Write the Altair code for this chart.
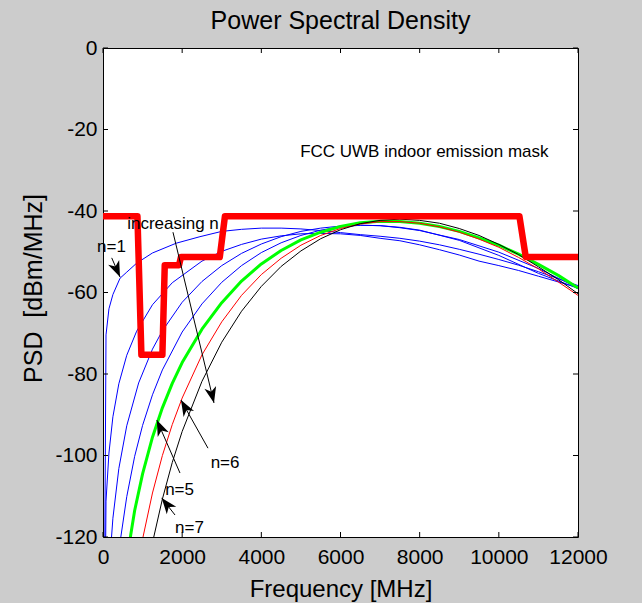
import math
import altair as alt
import pandas as pd

# ---------------- text ----------------
TITLE = "Power Spectral Density"
X_TITLE = "Frequency [MHz]"
Y_TITLE = "PSD\u00a0\u00a0[dBm/MHz]"
X_TICKS = [0, 2000, 4000, 6000, 8000, 10000, 12000]
Y_TICKS = [0, -20, -40, -60, -80, -100, -120]

# ---------------- FCC indoor mask ----------------
MASK_F = [0, 870, 970, 1500, 1560, 1920, 1970, 2950, 3080, 10520, 10680, 12000]
MASK_PSD = [-41.3, -41.3, -75.3, -75.3, -53.3, -53.3, -51.3, -51.3, -41.3, -41.3, -51.3, -51.3]

# ---------------- PSD curves ----------------
N1_F = [0, 76, 150, 250, 430, 600, 850, 1250, 1850, 2450, 3000, 3500, 4000, 4500, 5000,
        5500, 6000, 6500, 7000, 7500, 8000, 8500, 9000, 9500, 10000, 10500, 11000, 11500, 12000]
N1_PSD = [-200, -70.4, -64.0, -60.5, -56.5, -55.0, -52.8, -50.3, -47.9, -46.3, -45.0, -44.5, -44.2, -44.2, -44.4,
          -44.8, -45.3, -45.8, -46.2, -46.7, -47.4, -48.3, -49.4, -50.6, -51.9, -53.3, -54.9, -56.6, -58.3]

N2_F = [0, 76, 150, 250, 400, 600, 850, 1250, 1750, 2500, 3000, 3500, 4000, 4500, 5000,
        5500, 6000, 6500, 7000, 7500, 8000, 8500, 9000, 9500, 10000, 10500, 11000, 11500, 12000]
N2_PSD = [-200, -111.2, -99.4, -90.5, -82.4, -75.4, -69.5, -63.0, -57.6, -52.3, -49.9, -48.2, -46.9, -46.1, -45.6,
          -45.5, -45.6, -46.0, -46.7, -47.3, -48.3, -49.5, -50.8, -52.3, -53.4, -54.6, -56.0, -57.4, -58.8]

N3_F = [150, 250, 400, 600, 900, 1250, 1500, 2000, 2500, 3000, 3500, 4000, 4500, 5000,
        5500, 6000, 6500, 7000, 7500, 8000, 9000, 10000, 11000, 12000]
N3_PSD = [-128.7, -115.4, -103.2, -92.7, -82.2, -73.9, -69.4, -62.4, -57.3, -53.4, -50.4, -48.1, -46.3, -45.0,
          -44.2, -43.7, -43.5, -43.6, -44.1, -44.8, -47.0, -50.1, -54.1, -58.9]

N4_F = [300, 450, 600, 800, 1000, 1250, 1500, 2000, 2500, 3000, 3500, 4000, 4500, 5000,
        5500, 6000, 6500, 7000, 7500, 8000, 9000, 10000, 11000, 12000]
N4_PSD = [-134.1, -120.0, -110.1, -100.2, -92.6, -85.1, -79.0, -69.7, -62.8, -57.5, -53.4, -50.2, -47.8, -46.0,
          -44.7, -43.9, -43.5, -43.6, -44.0, -44.7, -47.2, -50.9, -55.3, -59.0]

N5_F = [650, 700, 800, 1000, 1250, 1500, 1750, 2000, 2500, 3000, 3500, 4000, 4500, 5000, 5500, 6000,
        6500, 7000, 7500, 8000, 8500, 9000, 9500, 10000, 10500, 11000, 11500, 12000]
N5_PSD = [-123.0, -119.5, -113.5, -104.5, -95.5, -88.3, -82.3, -77.2, -69.0, -62.5, -57.2, -53.0, -49.7, -47.1, -45.2, -43.8,
          -42.9, -42.5, -42.6, -43.0, -43.8, -45.0, -46.6, -48.4, -50.6, -53.1, -55.8, -58.9]

N6_F = [1000, 1250, 1500, 1750, 2000, 2500, 3000, 3500, 4000, 4500, 5000, 5500, 6000, 6500,
        7000, 7500, 8000, 8500, 9000, 9500, 10000, 10500, 11000, 11500, 12000]
N6_PSD = [-120.5, -109.2, -100.0, -92.4, -85.9, -75.3, -67.2, -60.7, -55.6, -51.6, -48.4, -46.0, -44.3, -43.2,
          -42.6, -42.6, -43.0, -43.9, -45.2, -46.9, -48.9, -51.4, -54.2, -57.4, -60.7]

N7_F = [1250, 1500, 1750, 2000, 2500, 3000, 3500, 4000, 4500, 5000, 5500, 6000, 6500,
        7000, 7500, 8000, 8500, 9000, 9500, 10000, 10500, 11000, 11500, 12000]
N7_PSD = [-121.4, -110.7, -101.7, -94.1, -81.8, -72.2, -64.6, -58.5, -53.6, -49.8, -46.8, -44.6, -43.1,
          -42.3, -42.0, -42.3, -43.0, -44.3, -46.0, -48.2, -50.7, -53.7, -56.8, -60.3]

# ---------------- annotations ----------------
NOTE_TEXT = ["FCC UWB indoor emission mask", "increasing n", "n=1", "n=6", "n=5", "n=7"]
NOTE_F = [4980, 610, -150, 2720, 1570, 1820]
NOTE_PSD = [-26.7, -44.4, -50.1, -103.0, -109.7, -119.0]

ARROW_TAIL_F = [1768, 220, 2652, 1945, 1819]
ARROW_TAIL_PSD = [-45.2, -51.5, -98.2, -104.3, -114.6]
ARROW_TIP_F = [2804, 430, 1970, 1360, 1483]
ARROW_TIP_PSD = [-87.1, -56.2, -86.4, -91.3, -110.4]

# ---------------- layout ----------------
W, H = 475, 489
FONT = "Liberation Sans"
X_DOMAIN = [0, 12000]
Y_DOMAIN = [-120, 0]

xscale = alt.Scale(domain=X_DOMAIN, nice=False, zero=False)
yscale = alt.Scale(domain=Y_DOMAIN, nice=False, zero=False)

xaxis = alt.Axis(values=X_TICKS, title=X_TITLE, labelExpr="'' + datum.value",
                 labelFont=FONT, labelFontSize=21, labelColor="black", labelPadding=9,
                 labelFlush=False, labelOverlap=False,
                 ticks=False, tickSize=0, domain=False, grid=False,
                 titleFont=FONT, titleFontSize=24, titleFontWeight="normal", titleColor="black",
                 titleBaseline="alphabetic", titleY=59)
yaxis = alt.Axis(values=Y_TICKS, title=Y_TITLE, labelExpr="'' + datum.value",
                 labelFont=FONT, labelFontSize=21, labelColor="black", labelPadding=6,
                 labelFlush=False, labelOverlap=False,
                 ticks=False, tickSize=0, domain=False, grid=False,
                 titleFont=FONT, titleFontSize=25, titleFontWeight="normal", titleColor="black",
                 titleAngle=270, titleBaseline="alphabetic", titleAlign="center",
                 titleX=-62, titleY=240)

def X(field):
    return alt.X(field, scale=xscale, axis=xaxis)

def Y(field):
    return alt.Y(field, scale=yscale, axis=yaxis)

def curve(fs, ps, color, width):
    df = pd.DataFrame({"f": fs, "psd": ps, "i": range(len(fs))})
    return alt.Chart(df).mark_line(color=color, strokeWidth=width, clip=True,
                                   strokeJoin="round").encode(
        x=X("f:Q"), y=Y("psd:Q"), order="i:Q")

layers = [
    curve(N1_F, N1_PSD, "#0000ff", 1),
    curve(N2_F, N2_PSD, "#0000ff", 1),
    curve(N3_F, N3_PSD, "#0000ff", 1),
    curve(N4_F, N4_PSD, "#0000ff", 1),
    curve(N5_F, N5_PSD, "#00ff00", 3),
    curve(N6_F, N6_PSD, "#ff0000", 1),
    curve(N7_F, N7_PSD, "#000000", 1),
    curve(MASK_F, MASK_PSD, "#ff0000", 6.5),
]

# arrows
sx = W / (X_DOMAIN[1] - X_DOMAIN[0])
sy = H / (Y_DOMAIN[1] - Y_DOMAIN[0])
angles = []
for tf, tp, hf, hp in zip(ARROW_TAIL_F, ARROW_TAIL_PSD, ARROW_TIP_F, ARROW_TIP_PSD):
    dx = (hf - tf) * sx
    dy = (tp - hp) * sy
    angles.append(math.degrees(math.atan2(dx, -dy)) % 360)
arrows = pd.DataFrame({"f": ARROW_TAIL_F, "psd": ARROW_TAIL_PSD,
                       "hf": ARROW_TIP_F, "hp": ARROW_TIP_PSD, "ang": angles})

shafts = alt.Chart(arrows).mark_rule(color="black", strokeWidth=1).encode(
    x=X("f:Q"), y=Y("psd:Q"), x2="hf:Q", y2="hp:Q")
HEAD = "M0,0L0.6,1.6L0,1.15L-0.6,1.6Z"
heads = alt.Chart(arrows).mark_point(shape=HEAD, filled=True, size=400, color="black",
                                     opacity=1, strokeWidth=0).encode(
    x=X("hf:Q"), y=Y("hp:Q"), angle=alt.Angle("ang:Q", scale=None))

notes = pd.DataFrame({"f": NOTE_F, "psd": NOTE_PSD, "t": NOTE_TEXT})
texts = alt.Chart(notes).mark_text(align="left", baseline="alphabetic", font=FONT,
                                   fontSize=17, color="black").encode(
    x=X("f:Q"), y=Y("psd:Q"), text="t:N")

# inward ticks on all four sides
xt = pd.DataFrame({"f": X_TICKS})
yt = pd.DataFrame({"psd": Y_TICKS})
TL = 5
tick_bottom = alt.Chart(xt).mark_rule(color="black", strokeWidth=1).encode(
    x=X("f:Q"), y=alt.value(H), y2=alt.value(H - TL))
tick_top = alt.Chart(xt).mark_rule(color="black", strokeWidth=1).encode(
    x=X("f:Q"), y=alt.value(0), y2=alt.value(TL))
tick_left = alt.Chart(yt).mark_rule(color="black", strokeWidth=1).encode(
    y=Y("psd:Q"), x=alt.value(0), x2=alt.value(TL))
tick_right = alt.Chart(yt).mark_rule(color="black", strokeWidth=1).encode(
    y=Y("psd:Q"), x=alt.value(W), x2=alt.value(W - TL))

chart = alt.layer(*layers, shafts, heads, texts,
                  tick_bottom, tick_top, tick_left, tick_right).properties(
    width=W, height=H,
    title=alt.TitleParams(TITLE, font=FONT, fontSize=25, fontWeight="normal", color="black",
                          anchor="middle", frame="group", offset=15, baseline="alphabetic",
                          dy=32),
    padding={"left": 103, "top": 48, "right": 64, "bottom": 66},
    autosize=alt.AutoSizeParams(type="none"),
).configure(background="#cccccc").configure_view(fill="white", stroke="black", strokeWidth=1)

chart.save("out.html", embed_options={"renderer": "svg", "actions": False})
